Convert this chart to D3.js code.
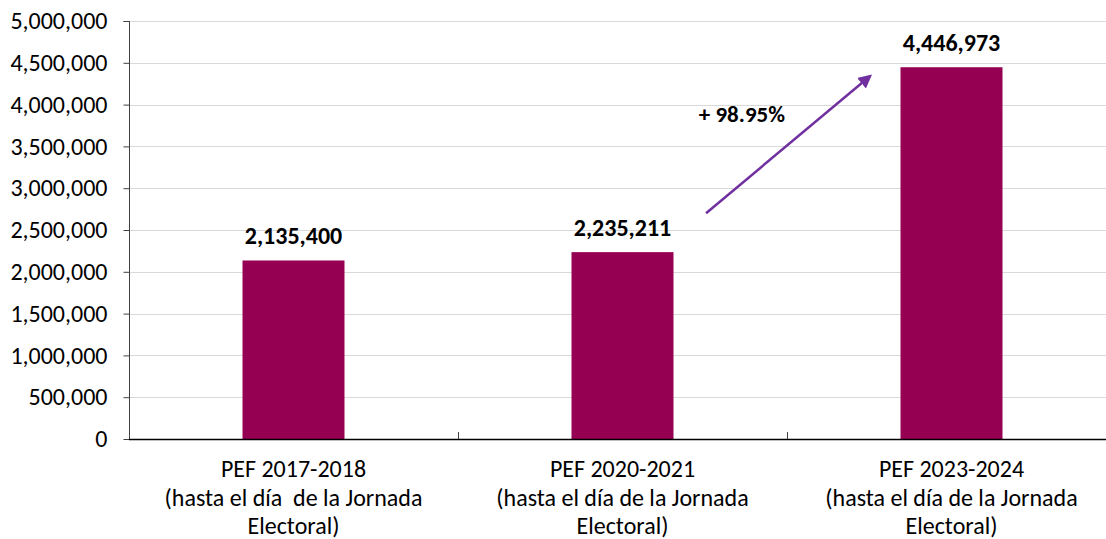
<!DOCTYPE html>
<html>
<head>
<meta charset="utf-8">
<script src="https://cdn.jsdelivr.net/npm/d3@7"></script>
<style>
  html, body { margin: 0; padding: 0; background: #fff; }
  svg { display: block; font-family: Carlito, Lato, sans-serif; }
</style>
</head>
<body>
<svg id="chart" width="1106" height="539"></svg>
<script>
// Electoral process (PEF) totals
const categories = ["PEF 2017-2018", "PEF 2020-2021", "PEF 2023-2024"];
const categoryNotes = [
  ["(hasta el día  de la Jornada", "Electoral)"],
  ["(hasta el día de la Jornada", "Electoral)"],
  ["(hasta el día de la Jornada", "Electoral)"]
];
const values = [2135400, 2235211, 4446973];
const yTicks = [0, 500000, 1000000, 1500000, 2000000, 2500000, 3000000, 3500000, 4000000, 4500000, 5000000];

// Growth annotation between the last two periods (band units, value)
const growthLabel = "+ 98.95%";
const arrowFrom = [1.754, 2700000];
const arrowTo = [2.252, 4340000];
const growthLabelAt = [1.863, 3890000];

const svg = d3.select("#chart");
const plotLeft = 129, plotRight = 1116, plotTop = 21, plotBottom = 439;

const x = d3.scaleBand().domain(categories).range([plotLeft, plotRight]).paddingInner(0.69).paddingOuter(0.345);
const xUnit = d3.scaleLinear().domain([0, categories.length]).range([plotLeft, plotRight]);
const y = d3.scaleLinear().domain([0, 5000000]).range([plotBottom, plotTop]);
const fmt = d3.format(",");

// horizontal gridlines
svg.append("g")
  .selectAll("line")
  .data(yTicks.filter(d => d > 0))
  .join("line")
  .attr("x1", plotLeft).attr("x2", 1106)
  .attr("y1", d => Math.round(y(d)) + 0.5).attr("y2", d => Math.round(y(d)) + 0.5)
  .attr("stroke", "#d9d9d9").attr("stroke-width", 1);

// y axis
const yAxis = svg.append("g")
  .attr("transform", `translate(${plotLeft + 0.5},0)`)
  .call(d3.axisLeft(y).tickValues(yTicks).tickFormat(fmt).tickSize(6).tickPadding(16));
yAxis.select(".domain").attr("stroke", "#404040").attr("d", `M-6,${plotTop + 0.5}H0V${plotBottom + 0.5}`);
yAxis.selectAll(".tick line").attr("stroke", "#404040");
yAxis.selectAll(".tick text").attr("font-size", 24).attr("fill", "#000").attr("font-family", "Carlito, Lato, sans-serif");

// bars
svg.append("g")
  .selectAll("rect")
  .data(values)
  .join("rect")
  .attr("x", (d, i) => x(categories[i]))
  .attr("width", x.bandwidth())
  .attr("y", d => y(d))
  .attr("height", d => y(0) - y(d))
  .attr("fill", "#960052");

// value labels
svg.append("g")
  .selectAll("text")
  .data(values)
  .join("text")
  .attr("x", (d, i) => x(categories[i]) + x.bandwidth() / 2)
  .attr("y", d => y(d) - 16)
  .attr("text-anchor", "middle")
  .attr("font-size", 24)
  .attr("font-weight", "bold")
  .attr("fill", "#000")
  .text(d => fmt(d));

// x axis baseline and category separators
const xg = svg.append("g");
xg.append("line")
  .attr("x1", plotLeft).attr("x2", 1106)
  .attr("y1", plotBottom + 0.5).attr("y2", plotBottom + 0.5)
  .attr("stroke", "#000").attr("stroke-width", 1.3);
xg.selectAll("line.sep")
  .data(d3.range(1, categories.length))
  .join("line")
  .attr("class", "sep")
  .attr("x1", d => Math.round(xUnit(d)) + 0.5).attr("x2", d => Math.round(xUnit(d)) + 0.5)
  .attr("y1", plotBottom - 7).attr("y2", plotBottom)
  .attr("stroke", "#404040");

// category labels
const labels = xg.selectAll("text.cat")
  .data(categories)
  .join("text")
  .attr("class", "cat")
  .attr("text-anchor", "middle")
  .attr("font-size", 24)
  .attr("fill", "#000")
  .style("white-space", "pre");
labels.each(function(d, i) {
  const t = d3.select(this);
  const cx = x(d) + x.bandwidth() / 2;
  [d].concat(categoryNotes[i]).forEach((line, k) => {
    t.append("tspan").attr("x", cx).attr("y", 477 + k * 28.5).text(line);
  });
});

// growth arrow
const defs = svg.append("defs");
defs.append("marker")
  .attr("id", "arrowhead")
  .attr("viewBox", "0 0 10 10")
  .attr("refX", 8).attr("refY", 5)
  .attr("markerWidth", 5.5).attr("markerHeight", 5.5)
  .attr("orient", "auto")
  .append("path").attr("d", "M0,0L10,5L0,10z").attr("fill", "#7030A0");

svg.append("line")
  .attr("x1", xUnit(arrowFrom[0])).attr("y1", y(arrowFrom[1]))
  .attr("x2", xUnit(arrowTo[0])).attr("y2", y(arrowTo[1]))
  .attr("stroke", "#7030A0").attr("stroke-width", 2.5)
  .attr("marker-end", "url(#arrowhead)");

svg.append("text")
  .attr("x", xUnit(growthLabelAt[0]))
  .attr("y", y(growthLabelAt[1]))
  .attr("dy", "0.35em")
  .attr("text-anchor", "middle")
  .attr("font-size", 23)
  .attr("font-weight", "bold")
  .attr("fill", "#000")
  .text(growthLabel);
</script>
</body>
</html>
